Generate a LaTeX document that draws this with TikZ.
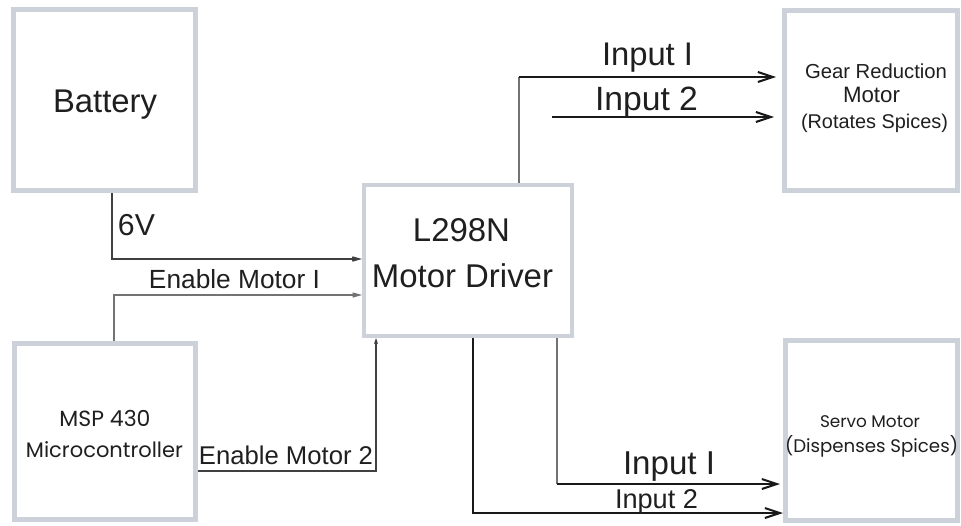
\documentclass[tikz,border=0pt]{standalone}
\usepackage{fontspec}
\usepackage{graphicx}
\setmainfont{Liberation Sans}
\newfontfamily\geo{Poppins}
\usetikzlibrary{arrows.meta}
\definecolor{boxc}{RGB}{205,210,218}
\newcommand\fw[2]{\resizebox{#1pt}{!}{#2}}
\begin{document}
\begin{tikzpicture}[x=1pt,y=-1pt,
  box/.style={draw=boxc, line width=5pt, fill=white, inner sep=0pt},
  txt/.style={anchor=base, inner sep=0pt, text=black!88},
  graywire/.style={draw=black!55, line width=1.3pt},
  darkwire/.style={draw=black!75, line width=1.5pt},
  blackwire/.style={draw=black!90, line width=2pt},
  smalltip/.style={-{Straight Barb[length=7pt,width=4pt]}},
  bigtip/.style={-{Straight Barb[length=15pt,width=10pt,line width=2pt]}}]
\useasboundingbox (0,0) rectangle (961,525);

% boxes
\node[box, minimum width=182, minimum height=181] (bat) at (104.5,100) {};
\node[box, minimum width=181, minimum height=176] (msp) at (105,431.5) {};
\node[box, line width=4pt, minimum width=208, minimum height=151] (drv) at (468,260.5) {};
\node[box, minimum width=173, minimum height=180] (gear) at (871,100.5) {};
\node[box, minimum width=172, minimum height=180] (servo) at (871.5,430.5) {};

% box texts
\node[txt] (tbat) at (105,112) {\fw{104}{Battery}};
\node[txt] (tdrv1) at (461.5,241) {\fw{97}{L298N}};
\node[txt] (tdrv2) at (462.5,287) {\fw{181}{Motor Driver}};
\node[txt] (tgear1) at (876,78) {\fw{142}{Gear Reduction}};
\node[txt] (tgear2) at (871.5,102) {\fw{57}{Motor}};
\node[txt] (tgear3) at (874.5,128) {\fw{147}{(Rotates Spices)}};
\node[txt] (tmsp1) at (105,426) {\fw{91}{\geo MSP 430}};
\node[txt] (tmsp2) at (104.5,457) {\fw{157}{\geo Microcontroller}};
\node[txt] (tservo1) at (870,427) {\fw{100}{\geo Servo Motor}};
\node[txt] (tservo2) at (871.5,452) {\fw{173}{\geo (Dispenses Spices)}};

% connectors
\coordinate (c1) at (112,259);
\draw[darkwire, smalltip] (c1 |- bat.south) -- (c1) -- (c1 -| drv.west);
\node[txt] (t6v) at (136.5,235) {\fw{37}{6V}};

\coordinate (c2) at (114,295);
\draw[graywire, smalltip] (c2 |- msp.north) -- (c2) -- (c2 -| drv.west);
\node[txt] (ten1) at (234.5,288) {\fw{171}{Enable Motor I}};

\coordinate (c3) at (376,471);
\draw[darkwire, -{Stealth[length=6pt,width=4pt]}] (c3 -| msp.east) -- (c3) -- (c3 |- drv.south);
\node[txt] (ten2) at (286,464) {\fw{174}{Enable Motor 2}};

\coordinate (c4) at (519,77);
\draw[graywire] (c4 |- drv.north) -- (c4);
\draw[blackwire, bigtip, shorten >=6pt] (c4) -- (c4 -| gear.west);
\node[txt] (tin1) at (647.5,65) {\fw{91}{Input I}};

\coordinate (c5) at (552,117);
\draw[blackwire, bigtip, shorten >=8pt] (c5) -- (c5 -| gear.west);
\node[txt] (tin2) at (646.5,110) {\fw{103}{Input 2}};

\coordinate (c6) at (557,484);
\draw[graywire] (c6 |- drv.south) -- (c6);
\draw[blackwire, bigtip, shorten >=3pt] (c6) -- (c6 -| servo.west);
\node[txt] (tin3) at (669,474) {\fw{92}{Input I}};

\coordinate (c7) at (473,513);
\draw[blackwire, bigtip] (c7 |- drv.south) -- (c7) -- (c7 -| servo.west);
\node[txt] (tin4) at (656.5,508) {\fw{83}{Input 2}};
\end{tikzpicture}
\end{document}
